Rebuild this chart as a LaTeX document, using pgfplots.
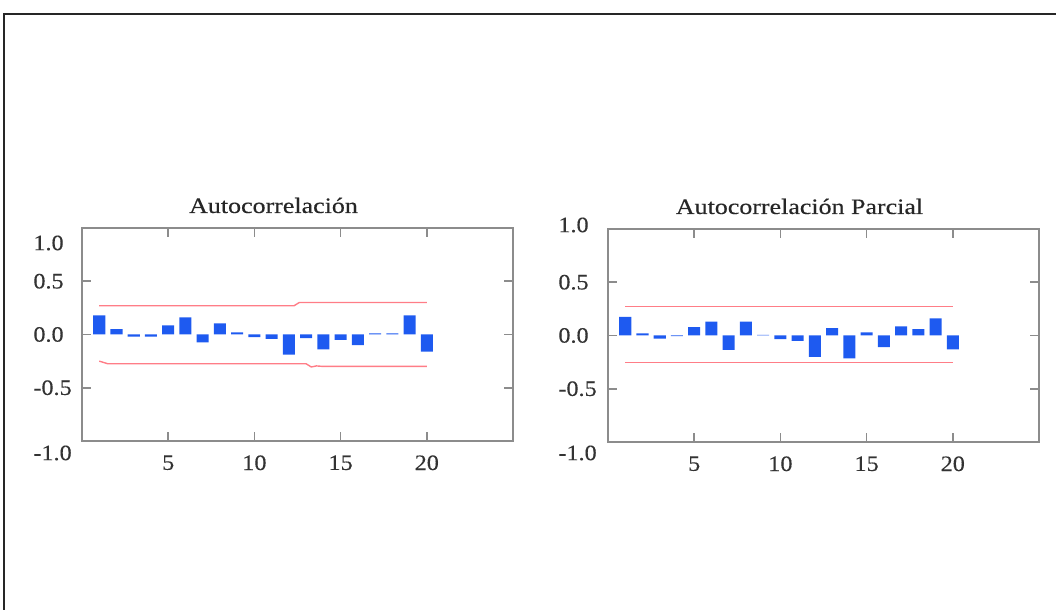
\documentclass[border=0pt]{standalone}
\usepackage{fontspec}
\setmainfont{Liberation Serif}[FakeStretch=1.1, FakeBold=0.3]
\newfontfamily\titlefont{Liberation Serif}[FakeStretch=1.18, FakeBold=0.3]
\usepackage{pgfplots}
\pgfplotsset{compat=1.18}
\definecolor{barblue}{RGB}{30,90,240}
\definecolor{bandred}{RGB}{255,125,135}
\pgfplotsset{acfstyle/.style={
  width=215.5pt, height=106.5pt, scale only axis,
  xmin=0, xmax=25, ymin=-1, ymax=1,
  xtick={5,10,15,20}, xticklabels={5,10,15,20},
  tick align=inside, major tick length=4.5pt,
  axis line style={black!45, line width=0.8pt},
  tick style={black!45, line width=0.8pt},
  font=\fontsize{11}{13}\selectfont,
  tick label style={text=black!80, font=\fontsize{11}{13}\selectfont},
  yticklabel style={anchor=west, inner sep=0pt},
  xticklabel style={anchor=north, inner sep=0pt, yshift=-7pt},
  title style={anchor=base, at={(0.5,1)}, yshift=1.5pt, xshift=-12pt, text=black!85, font=\titlefont\fontsize{11}{13}\selectfont},
}}
\begin{document}
\begin{tikzpicture}
\path[use as bounding box] (0,0) rectangle (528pt,305pt);
\draw[line width=1.1pt, black!85] (2pt,0) -- (2pt,298pt) -- (528pt,298pt);
\begin{axis}[acfstyle, at={(41pt,84.5pt)}, anchor=south west,
  title={Autocorrelación},
  ytick={-1,-0.5,0,0.5,1},
  yticklabels={\raisebox{-6pt}[\height][\depth]{-1.0},-0.5,0.0,0.5,\raisebox{-7.5pt}[\height][\depth]{1.0}},
  yticklabel style={xshift=-24.5pt}]
\addplot[ybar, bar width=0.7, fill=barblue, draw=none] coordinates {
(1,0.18) (2,0.05) (3,-0.02) (4,-0.02) (5,0.085) (6,0.16) (7,-0.075) (8,0.105) (9,0.02) (10,-0.025)
(11,-0.04) (12,-0.19) (13,-0.035) (14,-0.14) (15,-0.05) (16,-0.10) (17,0.01) (18,0.01) (19,0.18) (20,-0.16)};
\addplot[bandred, line width=0.7pt] coordinates {(1,0.27) (12.3,0.27) (12.6,0.30) (20,0.30)};
\addplot[bandred, line width=0.7pt] coordinates {(1,-0.25) (1.5,-0.275) (13,-0.275) (13.3,-0.305) (13.6,-0.295) (14,-0.30) (20,-0.30)};
\end{axis}
\begin{axis}[acfstyle, at={(304pt,84pt)}, anchor=south west,
  title={Autocorrelación Parcial},
  ytick={-1,-0.5,0,0.5,1},
  yticklabels={\raisebox{-5.5pt}[\height][\depth]{-1.0},-0.5,0.0,0.5,\raisebox{2pt}[\height][\depth]{1.0}},
  yticklabel style={xshift=-25pt}]
\addplot[ybar, bar width=0.7, fill=barblue, draw=none] coordinates {
(1,0.175) (2,0.02) (3,-0.03) (4,-0.005) (5,0.078) (6,0.13) (7,-0.135) (8,0.13) (9,0.005) (10,-0.035)
(11,-0.05) (12,-0.20) (13,0.07) (14,-0.215) (15,0.03) (16,-0.11) (17,0.085) (18,0.06) (19,0.16) (20,-0.13)};
\addplot[bandred, line width=0.7pt] coordinates {(1,0.27) (20,0.27)};
\addplot[bandred, line width=0.7pt] coordinates {(1,-0.255) (20,-0.255)};
\end{axis}
\end{tikzpicture}
\end{document}
